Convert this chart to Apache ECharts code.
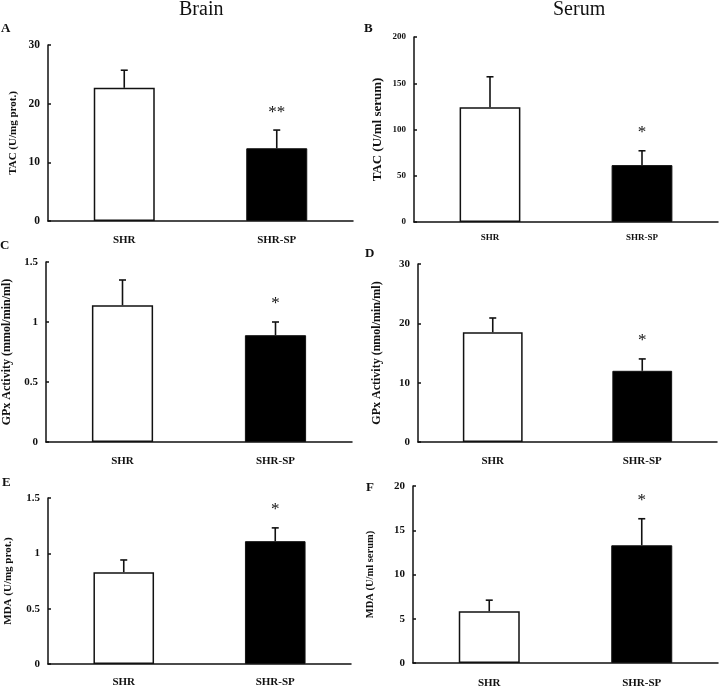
<!DOCTYPE html>
<html>
<head>
<meta charset="utf-8">
<script src="https://cdn.jsdelivr.net/npm/echarts@6/dist/echarts.min.js"></script>
<style>html,body{margin:0;padding:0;background:#fff}#c{width:720px;height:689px}</style>
</head>
<body>
<div id="c"></div>
<script>
// ---- data ----
const categories = ['SHR', 'SHR-SP'];
const tacBrainMean = [22.7, 12.4];
const tacBrainSD = [3.0, 3.1];
const tacBrainSig = ['', '**'];
const tacSerumMean = [124, 61.5];
const tacSerumSD = [33, 15.5];
const tacSerumSig = ['', '*'];
const gpxBrainMean = [1.14, 0.89];
const gpxBrainSD = [0.21, 0.11];
const gpxBrainSig = ['', '*'];
const gpxSerumMean = [18.5, 12.0];
const gpxSerumSD = [2.4, 2.0];
const gpxSerumSig = ['', '*'];
const mdaBrainMean = [0.83, 1.11];
const mdaBrainSD = [0.11, 0.12];
const mdaBrainSig = ['', '*'];
const mdaSerumMean = [5.85, 13.3];
const mdaSerumSD = [1.25, 3.0];
const mdaSerumSig = ['', '*'];

const panels = [
  {letter:'A', name:'TAC (U/mg prot.)', mean:tacBrainMean, sd:tacBrainSD, sig:tacBrainSig, max:30, interval:10,
   grid:{left:48, top:45, width:305, height:176}, nameGap:29, nameSize:11, tickSize:11.5, catSize:11, catMargin:14},
  {letter:'B', name:'TAC (U/ml serum)', mean:tacSerumMean, sd:tacSerumSD, sig:tacSerumSig, max:200, interval:50,
   grid:{left:414, top:37, width:304, height:185}, nameGap:30, nameSize:13, tickSize:9, catSize:9, catMargin:11},
  {letter:'C', name:'GPx Activity (mmol/min/ml)', mean:gpxBrainMean, sd:gpxBrainSD, sig:gpxBrainSig, max:1.5, interval:0.5,
   grid:{left:46, top:262, width:306, height:180}, nameGap:33, nameSize:12, tickSize:11, catSize:11, catMargin:14},
  {letter:'D', name:'GPx Activity (nmol/min/ml)', mean:gpxSerumMean, sd:gpxSerumSD, sig:gpxSerumSig, max:30, interval:10,
   grid:{left:418, top:264, width:299, height:178}, nameGap:35, nameSize:12, tickSize:11, catSize:11, catMargin:14},
  {letter:'E', name:'MDA (U/mg prot.)', mean:mdaBrainMean, sd:mdaBrainSD, sig:mdaBrainSig, max:1.5, interval:0.5,
   grid:{left:48, top:498, width:303, height:166}, nameGap:34, nameSize:11, tickSize:11, catSize:11, catMargin:13},
  {letter:'F', name:'MDA (U/ml serum)', mean:mdaSerumMean, sd:mdaSerumSD, sig:mdaSerumSig, max:20, interval:5,
   grid:{left:413, top:486, width:305, height:178}, nameGap:37, nameSize:10.5, tickSize:11, catSize:11, catMargin:15}
];
const letterPos = [[1,28],[364,28],[0,245],[365,253],[2,482],[366,487]];

const FONT = '"Liberation Serif", "Times New Roman", serif';
const INK = '#111';

const option = {
  animation:false,
  backgroundColor:'#fff',
  grid:[], xAxis:[], yAxis:[], series:[],
  graphic:[
    {type:'text', left:179, top:0, style:{text:'Brain', font:'20px '+FONT, fill:INK, textAlign:'center'}},
    {type:'text', left:553, top:0, style:{text:'Serum', font:'20px '+FONT, fill:INK, textAlign:'center'}}
  ]
};

panels.forEach((p, i) => {
  option.grid.push(Object.assign({containLabel:false}, p.grid));
  option.xAxis.push({
    type:'category', gridIndex:i, data:categories,
    axisLine:{lineStyle:{color:INK, width:1.5}},
    axisTick:{inside:true, length:3, lineStyle:{color:INK, width:1.5}},
    axisLabel:{margin:p.catMargin, color:INK, fontFamily:FONT, fontWeight:'bold', fontSize:p.catSize}
  });
  option.yAxis.push({
    type:'value', gridIndex:i, min:0, max:p.max, interval:p.interval,
    name:p.name, nameLocation:'middle', nameGap:p.nameGap,
    nameTextStyle:{color:INK, fontFamily:FONT, fontWeight:'bold', fontSize:p.nameSize},
    axisLine:{show:true, lineStyle:{color:INK, width:1.5}},
    axisTick:{show:true, inside:true, length:3, lineStyle:{color:INK, width:1.5}},
    splitLine:{show:false},
    axisLabel:{margin:8, color:INK, fontFamily:FONT, fontWeight:'bold', fontSize:p.tickSize}
  });
  option.series.push({
    type:'bar', xAxisIndex:i, yAxisIndex:i, barWidth:'40%',
    data:p.mean.map((v, k) => ({
      value:v,
      itemStyle: k === 0 ? {color:'#fff', borderColor:INK, borderWidth:1.5} : {color:'#000', borderColor:INK, borderWidth:1}
    }))
  });
  const sig = p.sig;
  option.series.push({
    type:'custom', xAxisIndex:i, yAxisIndex:i, z:5,
    encode:{x:0, y:[1,2]},
    data:p.mean.map((v, k) => [k, v, v + p.sd[k]]),
    renderItem:(params, api) => {
      const k = api.value(0);
      const base = api.coord([k, api.value(1)]);
      const top = api.coord([k, api.value(2)]);
      const ch = [
        {type:'line', shape:{x1:base[0], y1:base[1], x2:top[0], y2:top[1]}, style:{stroke:INK, lineWidth:1.6}},
        {type:'line', shape:{x1:top[0]-3.5, y1:top[1], x2:top[0]+3.5, y2:top[1]}, style:{stroke:INK, lineWidth:1.6}}
      ];
      const s = sig[params.dataIndex];
      if (s) ch.push({type:'text', x:top[0], y:top[1]-18,
        style:{text:s, font:'17px '+FONT, fill:INK, textAlign:'center', textVerticalAlign:'middle'}});
      return {type:'group', children:ch};
    }
  });
  option.graphic.push({type:'text', left:letterPos[i][0], top:letterPos[i][1]-6,
    style:{text:p.letter, font:'bold 13px '+FONT, fill:INK}});
});

const chart = echarts.init(document.getElementById('c'), null, {renderer:'canvas'});
chart.setOption(option);
</script>
</body>
</html>
